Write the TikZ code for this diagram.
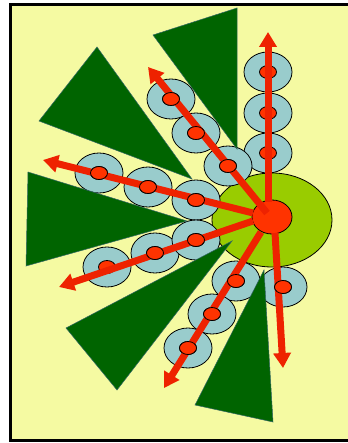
\documentclass[tikz,border=0pt]{standalone}
\usetikzlibrary{arrows.meta,shapes.geometric}
\definecolor{bgyel}{HTML}{F5FAA2}
\definecolor{dkgreen}{HTML}{006400}
\definecolor{ltgreen}{HTML}{99CC00}
\definecolor{cblue}{HTML}{99CCCC}
\definecolor{cred}{HTML}{FF3300}
\definecolor{ared}{HTML}{EE2200}
\definecolor{tedge}{HTML}{336666}
\tikzset{
  blade/.style={fill=dkgreen,draw=tedge,line width=0.5pt},
  disc/.style={ellipse,fill=cblue,draw=black,line width=0.8pt,minimum width=48pt,minimum height=40pt,inner sep=0pt},
  dot/.style={ellipse,fill=cred,draw=black,line width=0.8pt,minimum width=17pt,minimum height=13pt,inner sep=0pt},
  ray/.style={draw=ared,line width=7pt,-{Triangle[length=15pt,width=17pt]}},
}
\begin{document}
\begin{tikzpicture}[x=1pt,y=-1pt]
\useasboundingbox (0,0) rectangle (347,443);
\fill[white] (0,0) rectangle (347,443);
\draw[fill=bgyel,line width=3pt] (10.5,4.5) rectangle (352,440.5);
% hub
\node[ellipse,fill=ltgreen,draw=black,line width=0.8pt,minimum width=120pt,minimum height=94pt,inner sep=0pt] (hub) at (272,220) {};
% discs
\node[disc] (u1) at (268,72) {};
\node[disc] (u2) at (268,113) {};
\node[disc] (u3) at (268,153) {};
\node[disc] (d1) at (171,99) {};
\node[disc] (d2) at (196,133) {};
\node[disc] (d3) at (228,166) {};
\node[disc] (l1) at (99,173) {};
\node[disc] (l2) at (148,187) {};
\node[disc] (l3) at (196,200) {};
\node[disc] (m1) at (107,267) {};
\node[disc] (m2) at (155,253) {};
\node[disc] (m3) at (196,240) {};
\node[disc] (b1) at (236,281) {};
\node[disc] (b2) at (212,314) {};
\node[disc] (b3) at (188,348) {};
\node[disc] (s1) at (283,287) {};
% blades
\draw[blade] (153,35) -- (237,8) -- (237,149) -- cycle;
\draw[blade] (97,47) -- (39,121) -- (192,179) -- cycle;
\draw[blade] (28,172) -- (26,266) -- (187,221) -- cycle;
\draw[blade] (66,328) -- (117,390) -- (232,241) -- cycle;
\draw[blade] (195,405) -- (273,422) -- (264,270) -- cycle;
% dots
\foreach \n in {u1,u2,u3,d1,d2,d3,l1,l2,l3,m1,m2,m3,b1,b2,b3,s1}
  \node[dot] (p\n) at (\n) {};
% centre
\node[ellipse,fill=cred,draw=black,line width=0.8pt,minimum width=40pt,minimum height=34pt,inner sep=0pt] (c) at (272,217) {};
% rays
\coordinate (tu) at (268,32);
\coordinate (td) at (148,67);
\coordinate (tl) at (43,160);
\coordinate (tm) at (59,287);
\coordinate (tb) at (164,388);
\coordinate (ts) at (283,368);
\coordinate (su) at (268,202);
\coordinate (sd) at (267,213);
\coordinate (sl) at (253,213);
\coordinate (sm) at (253,221);
\coordinate (sb) at (261,232);
\coordinate (ss) at (275,233);
\draw[ray] (su) -- (tu);
\draw[ray] (sd) -- (td);
\draw[ray] (sl) -- (tl);
\draw[ray] (sm) -- (tm);
\draw[ray] (sb) -- (tb);
\draw[ray] (ss) -- (ts);
\foreach \n in {d1,d2,d3,l1,l2,l3,m2,m3,b1,b2,b3,s1}
  \node[dot] at (\n) {};
\end{tikzpicture}
\end{document}
